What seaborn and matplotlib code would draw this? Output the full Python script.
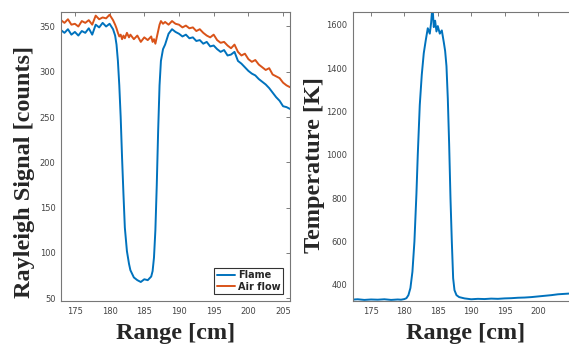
import numpy as np
import pandas as pd
import seaborn as sns
import matplotlib
matplotlib.use("Agg")
import matplotlib.pyplot as plt

# Rayleigh signal vs range
range_sig = [173, 173.5, 174, 174.5, 175, 175.5, 176, 176.5, 177, 177.5,
             178, 178.5, 179, 179.5, 180, 180.5, 180.8, 181, 181.2, 181.4,
             181.6, 181.8, 182, 182.2, 182.5, 182.8, 183, 183.5, 184, 184.5,
             185, 185.5, 186, 186.2, 186.4, 186.6, 186.8, 187, 187.2, 187.4,
             187.7, 188, 188.5, 189, 189.5, 190, 190.5, 191, 191.5, 192,
             192.5, 193, 193.5, 194, 194.5, 195, 195.5, 196, 196.5, 197,
             197.5, 198, 198.5, 199, 199.5, 200, 200.5, 201, 201.5, 202,
             202.5, 203, 203.5, 204, 204.5, 205, 205.5, 206]
flame = [346, 343, 347, 341, 344, 340, 345, 343, 348, 341,
         352, 349, 354, 350, 353, 347, 340, 330, 312, 285,
         250, 205, 165, 128, 102, 88, 81, 73, 70, 68,
         71, 70, 74, 80, 95, 125, 175, 235, 285, 312,
         325, 330, 342, 347, 344, 342, 339, 341, 337, 338,
         334, 335, 331, 333, 328, 329, 325, 322, 324, 318,
         319, 322, 312, 309, 305, 301, 298, 296, 292, 289,
         286, 282, 277, 272, 268, 262, 261, 259]
air_flow = [357, 354, 358, 352, 353, 350, 356, 354, 357, 352,
            362, 358, 360, 359, 363, 357, 352, 348, 343, 339,
            341, 336, 340, 337, 343, 338, 341, 336, 340, 333,
            338, 335, 339, 333, 336, 331, 338, 345, 352, 356,
            353, 355, 352, 356, 353, 352, 349, 351, 348, 349,
            345, 347, 343, 340, 338, 341, 335, 332, 333, 329,
            326, 330, 322, 318, 320, 314, 311, 313, 308, 305,
            302, 304, 297, 295, 293, 288, 285, 283]

# Temperature vs range
range_temp = [172, 173, 174, 175, 176, 177, 178, 179, 179.5, 180,
              180.3, 180.6, 180.9, 181.2, 181.5, 181.8, 182, 182.3, 182.6, 182.9,
              183.2, 183.5, 183.8, 184, 184.2, 184.4, 184.6, 184.8, 185, 185.3,
              185.6, 185.9, 186.1, 186.3, 186.5, 186.7, 186.9, 187.1, 187.3, 187.5,
              187.8, 188.2, 189, 190, 191, 192, 193, 194, 195, 196,
              197, 198, 199, 200, 201, 202, 203, 204, 205, 206]
temperature = [331, 333, 330, 332, 331, 333, 330, 332, 331, 334,
               338, 352, 385, 460, 600, 820, 1000, 1230, 1370, 1470,
               1530, 1585, 1560, 1610, 1690, 1590, 1620, 1570, 1595, 1560,
               1575, 1520, 1480, 1410, 1260, 1050, 800, 600, 430, 375,
               352, 343, 337, 333, 335, 334, 336, 335, 337, 338,
               340, 341, 343, 346, 349, 352, 356, 358, 360, 362]

blue = "#0072BD"
orange = "#D95319"

sns.set_style("white")
plt.rcParams["font.family"] = ["DejaVu Sans"]

W, H = 569, 349
fig = plt.figure(figsize=(W / 100, H / 100), dpi=100)
ax1 = fig.add_axes([61 / W, (H - 301) / H, (290 - 61) / W, (301 - 12) / H])
ax2 = fig.add_axes([353 / W, (H - 301) / H, (578 - 353) / W, (301 - 12) / H])

sig = pd.DataFrame({"range": range_sig, "Flame": flame, "Air flow": air_flow})
sns.lineplot(data=sig, x="range", y="Flame", ax=ax1, color=blue, lw=1.4,
             sort=False, estimator=None, label="Flame")
sns.lineplot(data=sig, x="range", y="Air flow", ax=ax1, color=orange, lw=1.4,
             sort=False, estimator=None, label="Air flow")

temp = pd.DataFrame({"range": range_temp, "T": temperature})
sns.lineplot(data=temp, x="range", y="T", ax=ax2, color=blue, lw=1.4,
             sort=False, estimator=None, legend=False)

ax1.set_xlim(173, 206)
ax1.set_ylim(47, 366)
ax1.set_xticks(np.arange(175, 206, 5))
ax1.set_yticks(np.arange(50, 351, 50))
ax2.set_xlim(172.3, 206)
ax2.set_ylim(325, 1660)
ax2.set_xticks(np.arange(175, 201, 5))
ax2.set_yticks(np.arange(400, 1601, 200))

serif = {"family": "Liberation Serif", "weight": "bold", "size": 17.5}
ax1.set_ylabel("Rayleigh Signal [counts]", fontdict=serif, labelpad=3)
ax2.set_ylabel("Temperature [K]", fontdict=serif, labelpad=1)
ax1.yaxis.label.set_y(0.446)
ax2.yaxis.label.set_y(0.47)
for ax in (ax1, ax2):
    ax.set_xlabel("Range [cm]", fontdict=serif, labelpad=5)
    ax.tick_params(direction="in", length=3, width=0.6, labelsize=6,
                   labelcolor="#444444", color="#666666",
                   top=True, right=True, pad=4)
    for s in ax.spines.values():
        s.set_color("#777777")
        s.set_linewidth(0.8)

leg = ax1.legend(loc="lower right", fontsize=7, frameon=True, fancybox=False,
                 handlelength=1.9, borderpad=0.25, labelspacing=0.15,
                 handletextpad=0.3, borderaxespad=0.7)
leg.get_frame().set_edgecolor("black")
leg.get_frame().set_linewidth(0.8)
for t in leg.get_texts():
    t.set_fontweight("bold")

fig.savefig("out.png", dpi=100)
